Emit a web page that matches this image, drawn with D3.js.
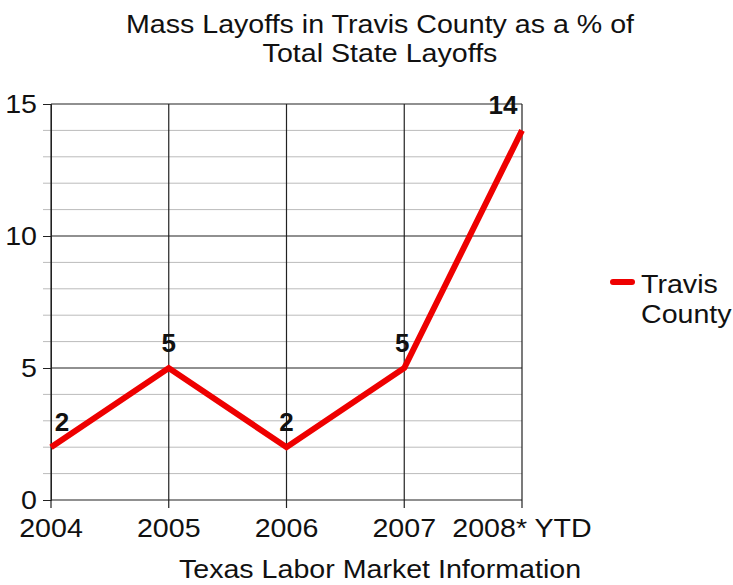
<!DOCTYPE html>
<html>
<head>
<meta charset="utf-8">
<script src="https://cdn.jsdelivr.net/npm/d3@7"></script>
<style>
  body { margin: 0; background: #fff; }
  text { font-family: "Liberation Sans", Arial, sans-serif; fill: #111; }
</style>
</head>
<body>
<script>
const width = 733;
const height = 585;

const years = ['2004', '2005', '2006', '2007', '2008* YTD'];
const travisCounty = [2, 5, 2, 5, 14];
const yTicks = [0, 5, 10, 15];
const titleLines = ['Mass Layoffs in Travis County as a % of', 'Total State Layoffs'];
const xTitle = 'Texas Labor Market Information';
const seriesName = ['Travis', 'County'];

const margin = { left: 51, right: 211, top: 104, bottom: 85 };
const stretch = 1.1; // text in the original is a bit wide

const svg = d3.select('body')
  .append('svg')
    .attr('width', width)
    .attr('height', height);

const x = d3.scalePoint()
  .domain(years)
  .range([margin.left, width - margin.right]);

const y = d3.scaleLinear()
  .domain([0, 15])
  .range([height - margin.bottom, margin.top]);

// wide text helper
function wideText(g, tx, ty, str, size, anchor) {
  return g.append('text')
    .attr('transform', `translate(${tx},${ty}) scale(${stretch},1)`)
    .attr('text-anchor', anchor || 'middle')
    .attr('font-size', size)
    .text(str);
}

// minor grid (every 1)
svg.append('g')
  .attr('class', 'minor-grid')
  .selectAll('line')
  .data(d3.range(1, 15).filter(v => v % 5 !== 0))
  .join('line')
    .attr('x1', margin.left - 8)
    .attr('x2', width - margin.right)
    .attr('y1', d => y(d))
    .attr('y2', d => y(d))
    .attr('stroke', '#bbbbbb')
    .attr('stroke-width', 1);

// y axis
const yAxis = svg.append('g')
  .attr('transform', `translate(${margin.left},0)`)
  .call(d3.axisLeft(y).tickValues(yTicks).tickSize(8).tickFormat(''));
yAxis.select('.domain').attr('stroke', '#222');
yAxis.selectAll('.tick line').attr('stroke', '#222');

const yLabels = svg.append('g');
yTicks.forEach(t => {
  wideText(yLabels, 37, y(t) + 9, t, 26, 'end');
});

// major horizontal grid
svg.append('g')
  .selectAll('line')
  .data(yTicks)
  .join('line')
    .attr('x1', margin.left)
    .attr('x2', width - margin.right)
    .attr('y1', d => y(d))
    .attr('y2', d => y(d))
    .attr('stroke', '#222')
    .attr('stroke-width', 1.2);

// vertical grid
svg.append('g')
  .selectAll('line')
  .data(years)
  .join('line')
    .attr('x1', d => x(d))
    .attr('x2', d => x(d))
    .attr('y1', margin.top)
    .attr('y2', height - margin.bottom + 8)
    .attr('stroke', '#222')
    .attr('stroke-width', 1.2);

// x labels
const xLabels = svg.append('g');
years.forEach(yr => {
  wideText(xLabels, x(yr), height - margin.bottom + 37, yr, 26);
});

// series line
const line = d3.line()
  .x((d, i) => x(years[i]))
  .y(d => y(d));

svg.append('path')
  .datum(travisCounty)
  .attr('d', line)
  .attr('fill', 'none')
  .attr('stroke', '#ee0000')
  .attr('stroke-width', 6)
  .attr('stroke-linejoin', 'miter');

// data labels
svg.append('g')
  .selectAll('text')
  .data(travisCounty)
  .join('text')
    .attr('x', (d, i) => {
      const px = x(years[i]);
      if (i === 0) return px + 11;
      if (i === years.length - 1) return px - 19;
      if (i === 3) return px - 2;
      return px;
    })
    .attr('y', d => y(d) - 16)
    .attr('text-anchor', 'middle')
    .attr('font-size', 26)
    .attr('font-weight', 'bold')
    .text(d => d);

// title
const title = svg.append('g');
titleLines.forEach((t, i) => {
  wideText(title, 380, 33 + i * 29, t, 26);
});

// x axis title
wideText(svg, 380, 578, xTitle, 26);

// legend
const legend = svg.append('g').attr('transform', 'translate(612,282)');
legend.append('line')
  .attr('x1', 1).attr('x2', 20)
  .attr('y1', 0).attr('y2', 0)
  .attr('stroke', '#ee0000')
  .attr('stroke-width', 6)
  .attr('stroke-linecap', 'round');
seriesName.forEach((t, i) => {
  wideText(legend, 29, 11 + i * 30, t, 26, 'start');
});
</script>
</body>
</html>
